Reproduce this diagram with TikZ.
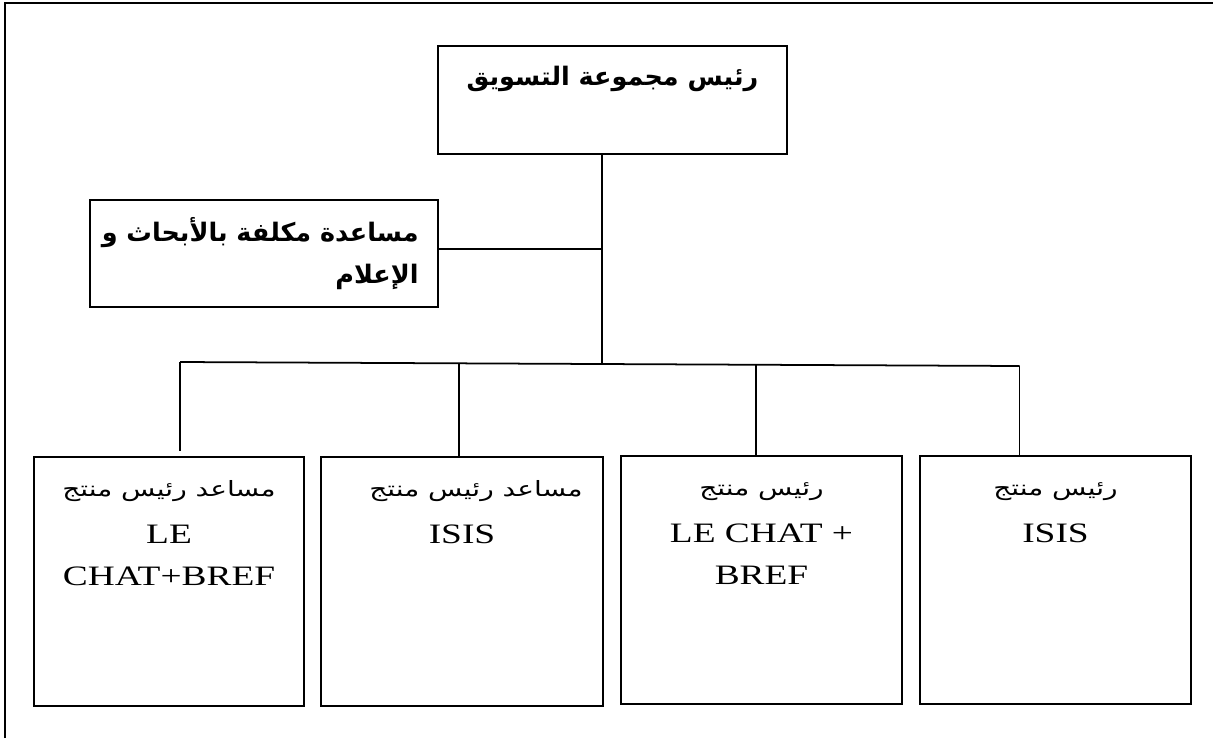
\documentclass[tikz,border=0pt]{standalone}
\usepackage{fontspec}
\setmainfont[FakeStretch=1.33]{Liberation Serif}
\newfontfamily\arabicfont[Script=Arabic,FakeStretch=1.33]{DejaVu Sans}
\newfontfamily\arabicbold[Script=Arabic]{DejaVu Sans Bold}
\TeXXeTstate=1
\usetikzlibrary{positioning}
\newcommand{\artxt}[1]{{\arabicfont\fontsize{12}{24}\selectfont\rule{0pt}{13pt}\beginR #1\endR}}
\newcommand{\artitre}[1]{{\arabicbold\fontsize{14.5}{24.5}\selectfont\beginR #1\endR}}
\tikzset{
  box/.style={draw, line width=1.1pt, inner sep=0pt},
  txt/.style={align=center, inner sep=0pt, font=\fontsize{16}{24}\selectfont},
  lien/.style={line width=1pt}
}
\begin{document}
\begin{tikzpicture}[x=0.02cm,y=-0.02cm]
\useasboundingbox (0,0) rectangle (1213,738);
\draw[line width=1.1pt] (5,738) -- (5,3) -- (1213,3);
\node[box, minimum width=6.98cm, minimum height=2.16cm] (chef) at (612.5,100) {};
\node[txt, below=0.42cm of chef.north] (chefT) {\artitre{رئيس مجموعة التسويق}};
\node[box, minimum width=6.96cm, minimum height=2.14cm] (assist) at (264,253.5) {};
\node[txt, align=right, below left=0.36cm and 0.4cm of assist.north east] (assistT)
  {\artitre{مساعدة مكلفة بالأبحاث و}\\ \artitre{الإعلام}};
\node[box, minimum width=5.4cm, minimum height=4.98cm] (b1) at (169,581.5) {};
\node[box, minimum width=5.64cm, minimum height=4.98cm] (b2) at (462,581.5) {};
\node[box, minimum width=5.62cm, minimum height=4.96cm] (b3) at (761.5,580) {};
\node[box, minimum width=5.42cm, minimum height=4.96cm] (b4) at (1055.5,580) {};
\node[txt, below=0.34cm of b1.north] (b1T) {\artxt{مساعد رئيس منتج}\\[3pt] LE\\ CHAT+BREF};
\node[txt, below=0.34cm of b2.north] (b2T) {\hspace*{0.56cm}\artxt{مساعد رئيس منتج}\\[3pt] ISIS};
\node[txt, below=0.34cm of b3.north] (b3T) {\artxt{رئيس منتج}\\[3pt] LE CHAT +\\ BREF};
\node[txt, below=0.34cm of b4.north] (b4T) {\artxt{رئيس منتج}\\[3pt] ISIS};
\coordinate (bus) at (602,364);
\coordinate (d1) at (180,362);
\coordinate (d2) at (459,364);
\coordinate (d3) at (756,364);
\coordinate (d4) at (1019.5,366);
\draw[lien] (chef.south -| bus) -- (bus);
\draw[lien] ([yshift=0.09cm]assist.east) -- ([yshift=0.09cm]assist.east -| bus);
\draw[lien] (d1) -- (d4);
\draw[lien, shorten >=0.1cm] (d1) -- (d1 |- b1.north);
\draw[lien] (d2) -- (d2 |- b2.north);
\draw[lien] (d3) -- (d3 |- b3.north);
\draw[lien] (d4) -- (d4 |- b4.north);
\end{tikzpicture}
\end{document}
